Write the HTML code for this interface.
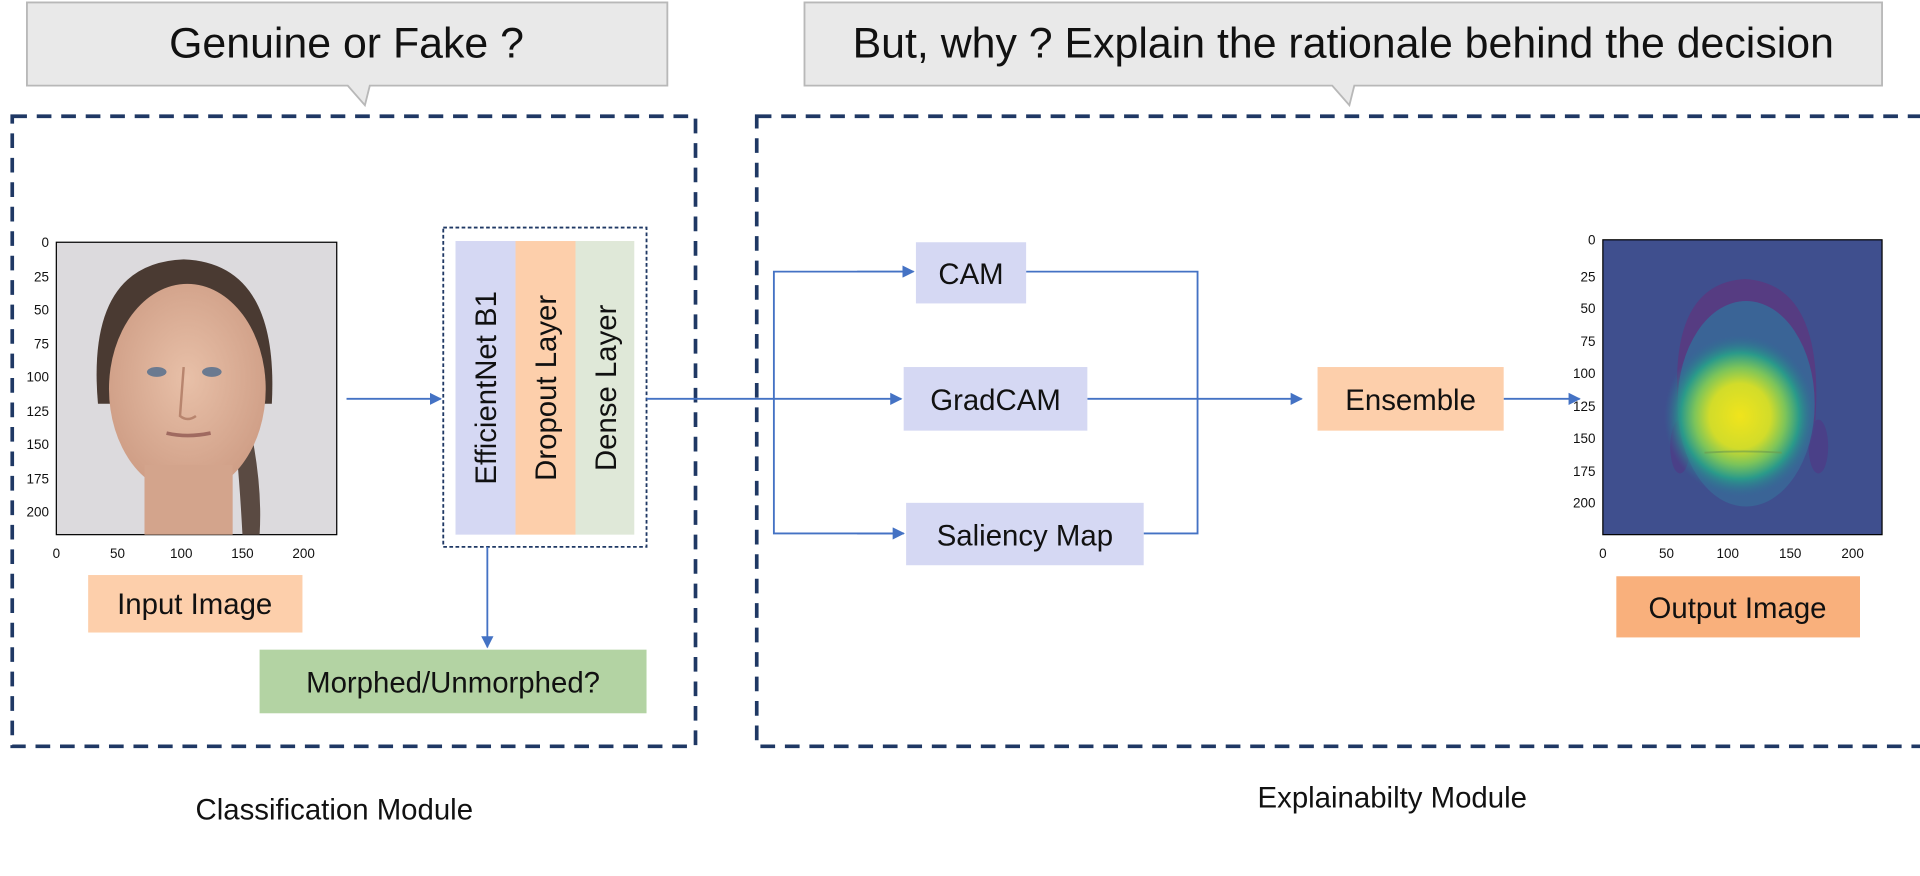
<!DOCTYPE html>
<html><head><meta charset="utf-8"><style>
html,body{margin:0;padding:0;background:#fff;width:1920px;height:876px;overflow:hidden}
svg{display:block}
text{font-family:"Liberation Sans",sans-serif}
</style></head><body>
<svg width="1920" height="876" viewBox="0 0 1568 716" preserveAspectRatio="none" xmlns="http://www.w3.org/2000/svg">
<defs>
<marker id="ar" markerWidth="10" markerHeight="10" refX="9" refY="5" orient="auto" markerUnits="userSpaceOnUse"><path d="M0,0 L10,5 L0,10 z" fill="#4472c4"/></marker>
<radialGradient id="heat" cx="0.5" cy="0.5" r="0.5">
<stop offset="0" stop-color="#f0e41c"/><stop offset="0.4" stop-color="#d2dc2a"/><stop offset="0.6" stop-color="#7cc45a"/><stop offset="0.78" stop-color="#2a9a8a"/><stop offset="1" stop-color="#2f6e94" stop-opacity="0"/></radialGradient>
<radialGradient id="skin" cx="0.5" cy="0.45" r="0.55"><stop offset="0" stop-color="#e8c0a8"/><stop offset="1" stop-color="#cf9e86"/></radialGradient>
</defs>
<path d="M22,2 H545 V70 H302 L298,86 L284,70 H22 Z" fill="#e9e9e9" stroke="#b8b8b8" stroke-width="1.5"/>
<text x="283" y="47" font-size="35" text-anchor="middle" fill="#111">Genuine or Fake ?</text>
<path d="M657,2 H1537 V70 H1106 L1102,86 L1088,70 H657 Z" fill="#e9e9e9" stroke="#b8b8b8" stroke-width="1.5"/>
<text x="1097" y="47" font-size="35" text-anchor="middle" fill="#111">But, why ? Explain the rationale behind the decision</text>
<rect x="10" y="95" width="558" height="515" fill="none" stroke="#1f3864" stroke-width="3" stroke-dasharray="12,8"/>
<rect x="618" y="95" width="960" height="515" fill="none" stroke="#1f3864" stroke-width="3" stroke-dasharray="12,8"/>
<rect x="46" y="198" width="229" height="239" fill="#dcdadd" stroke="#000" stroke-width="1"/>
<path d="M80,330 Q70,215 150,212 Q228,215 222,330 Z" fill="#4a3a32"/>
<path d="M200,330 Q215,390 212,437 L198,437 Q195,380 190,340 Z" fill="#5a4a42"/>
<ellipse cx="153" cy="318" rx="64" ry="86" fill="url(#skin)"/>
<rect x="118" y="380" width="72" height="57" fill="#d3a48c"/>
<ellipse cx="128" cy="304" rx="8" ry="4" fill="#6b7a90"/><ellipse cx="173" cy="304" rx="8" ry="4" fill="#6b7a90"/>
<path d="M150,300 L147,340 Q153,345 160,340" stroke="#b8856e" stroke-width="2" fill="none"/>
<path d="M136,354 Q153,358 172,354" stroke="#a06a60" stroke-width="3" fill="none"/>
<g font-size="11" fill="#111" text-anchor="end">
<text x="40" y="202">0</text><text x="40" y="230">25</text><text x="40" y="257">50</text><text x="40" y="285">75</text><text x="40" y="312">100</text><text x="40" y="340">125</text><text x="40" y="367">150</text><text x="40" y="395">175</text><text x="40" y="422">200</text></g>
<g font-size="11" fill="#111" text-anchor="middle">
<text x="46" y="456">0</text><text x="96" y="456">50</text><text x="148" y="456">100</text><text x="198" y="456">150</text><text x="248" y="456">200</text></g>
<rect x="72" y="470" width="175" height="47" fill="#fdcfab"/>
<text x="159" y="502" font-size="24" text-anchor="middle" fill="#111">Input Image</text>
<line x1="283" y1="326" x2="360" y2="326" stroke="#4472c4" stroke-width="1.5" marker-end="url(#ar)"/>
<rect x="362" y="186" width="166" height="261" fill="none" stroke="#1f3864" stroke-width="1.5" stroke-dasharray="3,2"/>
<rect x="372" y="197" width="49" height="240" fill="#d5d8f3"/>
<rect x="421" y="197" width="49" height="240" fill="#fdcfab"/>
<rect x="470" y="197" width="48" height="240" fill="#dfe8d8"/>
<text transform="translate(405,317) rotate(-90)" font-size="24" text-anchor="middle" fill="#111">EfficientNet B1</text>
<text transform="translate(454,317) rotate(-90)" font-size="24" text-anchor="middle" fill="#111">Dropout Layer</text>
<text transform="translate(503,317) rotate(-90)" font-size="24" text-anchor="middle" fill="#111">Dense Layer</text>
<line x1="398" y1="447" x2="398" y2="529" stroke="#4472c4" stroke-width="1.5" marker-end="url(#ar)"/>
<rect x="212" y="531" width="316" height="52" fill="#b3d3a3"/>
<text x="370" y="566" font-size="24" text-anchor="middle" fill="#111">Morphed/Unmorphed?</text>
<g stroke="#4472c4" stroke-width="1.5" fill="none">
<line x1="528" y1="326" x2="736" y2="326" marker-end="url(#ar)"/>
<polyline points="746,222 632,222 632,436 738,436"/>
<line x1="700" y1="222" x2="746" y2="222" marker-end="url(#ar)"/>
<line x1="700" y1="436" x2="738" y2="436" marker-end="url(#ar)"/>
<polyline points="838,222 978,222 978,436 934,436"/>
<line x1="888" y1="326" x2="1063" y2="326" marker-end="url(#ar)"/>
<line x1="1228" y1="326" x2="1290" y2="326" marker-end="url(#ar)"/>
</g>
<rect x="748" y="198" width="90" height="50" fill="#d5d8f3"/><text x="793" y="232" font-size="24" text-anchor="middle" fill="#111">CAM</text>
<rect x="738" y="300" width="150" height="52" fill="#d5d8f3"/><text x="813" y="335" font-size="24" text-anchor="middle" fill="#111">GradCAM</text>
<rect x="740" y="411" width="194" height="51" fill="#d5d8f3"/><text x="837" y="446" font-size="24" text-anchor="middle" fill="#111">Saliency Map</text>
<rect x="1076" y="300" width="152" height="52" fill="#fdcfab"/><text x="1152" y="335" font-size="24" text-anchor="middle" fill="#111">Ensemble</text>
<rect x="1309" y="196" width="228" height="241" fill="#3f4f8e" stroke="#000" stroke-width="1"/>
<path d="M1372,350 Q1358,232 1425,228 Q1492,232 1482,350 Z" fill="#5a3880" opacity="0.85"/>
<ellipse cx="1372" cy="365" rx="8" ry="22" fill="#4a4088"/><ellipse cx="1485" cy="365" rx="8" ry="22" fill="#4a4088"/>
<ellipse cx="1426" cy="330" rx="56" ry="84" fill="#3a6496"/>
<ellipse cx="1421" cy="340" rx="62" ry="66" fill="url(#heat)"/>
<path d="M1392,370 Q1425,368 1455,370" stroke="#6a9a50" stroke-width="1.5" fill="none" opacity="0.6"/>
<g font-size="11" fill="#111" text-anchor="end">
<text x="1303" y="200">0</text><text x="1303" y="230">25</text><text x="1303" y="256">50</text><text x="1303" y="283">75</text><text x="1303" y="309">100</text><text x="1303" y="336">125</text><text x="1303" y="362">150</text><text x="1303" y="389">175</text><text x="1303" y="415">200</text></g>
<g font-size="11" fill="#111" text-anchor="middle">
<text x="1309" y="456">0</text><text x="1361" y="456">50</text><text x="1411" y="456">100</text><text x="1462" y="456">150</text><text x="1513" y="456">200</text></g>
<rect x="1320" y="471" width="199" height="50" fill="#f9b07c"/>
<text x="1419" y="505" font-size="24" text-anchor="middle" fill="#111">Output Image</text>
<text x="273" y="670" font-size="24" text-anchor="middle" fill="#111">Classification Module</text>
<text x="1137" y="660" font-size="24" text-anchor="middle" fill="#111">Explainabilty Module</text>
</svg>
</body></html>
